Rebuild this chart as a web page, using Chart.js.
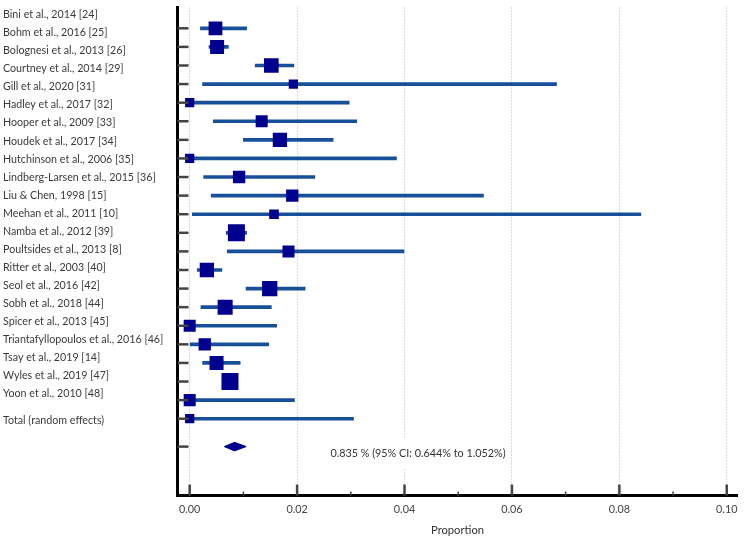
<!DOCTYPE html>
<html>
<head>
<meta charset="utf-8">
<script src="https://cdn.jsdelivr.net/npm/chart.js@4.4.1/dist/chart.umd.min.js"></script>
<style>
  html, body { margin: 0; padding: 0; background: #fff; }
</style>
</head>
<body>
<canvas id="forest" width="750" height="541"></canvas>
<script>
const studies = [
  "Bini et al., 2014 [24]",
  "Bohm et al., 2016 [25]",
  "Bolognesi et al., 2013 [26]",
  "Courtney et al., 2014 [29]",
  "Gill et al., 2020 [31]",
  "Hadley et al., 2017 [32]",
  "Hooper et al., 2009 [33]",
  "Houdek et al., 2017 [34]",
  "Hutchinson et al., 2006 [35]",
  "Lindberg-Larsen et al., 2015 [36]",
  "Liu & Chen, 1998 [15]",
  "Meehan et al., 2011 [10]",
  "Namba et al., 2012 [39]",
  "Poultsides et al., 2013 [8]",
  "Ritter et al., 2003 [40]",
  "Seol et al., 2016 [42]",
  "Sobh et al., 2018 [44]",
  "Spicer et al., 2013 [45]",
  "Triantafyllopoulos et al., 2016 [46]",
  "Tsay et al., 2019 [14]",
  "Wyles et al., 2019 [47]",
  "Yoon et al., 2010 [48]",
];
const proportions = [0.0048, 0.0051, 0.0152, 0.0193, 0.0, 0.0134, 0.0168, 0.0, 0.0092, 0.0191, 0.0157,
  0.0087, 0.0184, 0.0032, 0.0149, 0.0066, 0.0, 0.0028, 0.0050, 0.0075, 0.0, 0.0];
const ciLower = [0.0020, 0.0036, 0.0122, 0.0024, 0.0, 0.0044, 0.0100, 0.0, 0.0026, 0.0040, 0.0005,
  0.0068, 0.0070, 0.0014, 0.0105, 0.0021, 0.0, 0.0001, 0.0024, 0.0066, 0.0, 0.0];
const ciUpper = [0.0106, 0.0072, 0.0194, 0.0683, 0.0297, 0.0311, 0.0267, 0.0385, 0.0233, 0.0547, 0.0840,
  0.0106, 0.0399, 0.0060, 0.0215, 0.0152, 0.0162, 0.0147, 0.0094, 0.0086, 0.0195, 0.0305];
// peso relativo (%) de cada estudo -> tamanho do quadrado
const weights = [5.1, 5.3, 5.8, 2.3, 2.3, 3.9, 5.5, 2.3, 4.1, 4.1, 2.5, 7.8, 3.9, 5.5, 6.3, 6.1, 3.9,
  4.1, 5.3, 7.8, 3.9, 2.3];
const totalLabel = "Total (random effects)";
const totalValue = 0.00835;
const totalLower = 0.00644;
const totalUpper = 0.01052;
const xTicks = [0, 0.01, 0.02, 0.03, 0.04, 0.05, 0.06, 0.07, 0.08, 0.09, 0.10];

const rows = studies.map((_, i) => i + 1);
const totalRow = studies.length + 1.5;
const labelRows = studies.map((_, i) => i).concat([studies.length + 0.5]);
const labelTexts = studies.concat([totalLabel]);

const isMajor = (v) => Math.round(v * 100) % 2 === 0;
const squareRadius = (w) => (6.09 * Math.sqrt(w)) / 1.414;
const navy = "#00008f";
const ciColor = "#174f98";
const fontFamily = 'Lato, "Open Sans", sans-serif';

// sem folga extra para rótulos nas bordas
const noPadding = (scale) => {
  scale.paddingTop = 0;
  scale.paddingBottom = 0;
  scale.paddingLeft = 0;
  scale.paddingRight = 0;
};

// marcas internas nos eixos (apontando para dentro do gráfico)
const innerTicks = {
  id: "innerTicks",
  afterDraw(chart) {
    const { ctx, chartArea: { left, bottom }, scales: { x, y } } = chart;
    ctx.save();
    ctx.strokeStyle = "#444";
    y.ticks.forEach((t) => {
      const py = y.getPixelForValue(t.value);
      ctx.lineWidth = 2.5;
      ctx.beginPath();
      ctx.moveTo(left, py);
      ctx.lineTo(left + 11, py);
      ctx.stroke();
    });
    x.ticks.forEach((t) => {
      const px = x.getPixelForValue(t.value);
      const major = isMajor(t.value);
      ctx.lineWidth = major ? 2.5 : 1.5;
      ctx.beginPath();
      ctx.moveTo(px, bottom);
      ctx.lineTo(px, bottom - (major ? 11 : 4));
      ctx.stroke();
    });
    ctx.restore();
  },
};

// texto do efeito combinado
const totalText = {
  id: "totalText",
  afterDatasetsDraw(chart) {
    const { ctx, scales: { x, y } } = chart;
    const pct = (v) => (v * 100).toFixed(3);
    const text = `${pct(totalValue)} % (95% CI: ${pct(totalLower)}% to ${pct(totalUpper)}%)`;
    ctx.save();
    ctx.font = `10.8px ${fontFamily}`;
    const tx = x.getPixelForValue(0.0262);
    const ty = y.getPixelForValue(totalRow + 0.36);
    const w = ctx.measureText(text).width;
    ctx.fillStyle = "#fff";
    ctx.fillRect(tx - 4, ty - 15, w + 8, 30);
    ctx.fillStyle = "#333";
    ctx.textBaseline = "middle";
    ctx.textAlign = "left";
    ctx.fillText(text, tx, ty);
    ctx.restore();
  },
};

new Chart(document.getElementById("forest").getContext("2d"), {
  type: "scatter",
  plugins: [innerTicks, totalText],
  data: {
    datasets: [
      {
        type: "bar",
        indexAxis: "y",
        order: 3,
        data: rows.map((r, i) => ({ x: [ciLower[i], ciUpper[i]], y: r })),
        backgroundColor: ciColor,
        barThickness: 3,
        grouped: false,
        xAxisID: "x",
        yAxisID: "y",
      },
      {
        type: "scatter",
        order: 1,
        data: rows.map((r, i) => ({ x: proportions[i], y: r })),
        pointStyle: "rect",
        pointRadius: weights.map(squareRadius),
        backgroundColor: navy,
        borderColor: navy,
        borderWidth: 0,
        xAxisID: "x",
        yAxisID: "y",
      },
      {
        type: "line",
        order: 2,
        data: [
          { x: totalLower, y: totalRow },
          { x: totalValue, y: totalRow - 0.23 },
          { x: totalUpper, y: totalRow },
          { x: totalValue, y: totalRow + 0.23 },
          { x: totalLower, y: totalRow },
        ],
        fill: "shape",
        backgroundColor: navy,
        borderColor: navy,
        borderWidth: 1,
        pointRadius: 0,
        tension: 0,
        xAxisID: "x",
        yAxisID: "y",
      },
    ],
  },
  options: {
    responsive: false,
    animation: false,
    layout: { autoPadding: false, padding: { left: 3, top: 7.5, right: 12.5, bottom: 0 } },
    plugins: {
      legend: { display: false },
      tooltip: { enabled: false },
    },
    scales: {
      x: {
        type: "linear",
        offset: false,
        min: -0.00227,
        max: 0.102,
        afterBuildTicks: (scale) => {
          scale.ticks = xTicks.map((v) => ({ value: v }));
        },
        afterFit: (scale) => {
          scale.height = 45.5;
          noPadding(scale);
        },
        grid: {
          offset: false,
          color: (ctx) => (ctx.tick && isMajor(ctx.tick.value) ? "#b8b8b8" : "rgba(0,0,0,0)"),
          lineWidth: 1,
          drawTicks: false,
        },
        border: { display: true, color: "#000", width: 3, dash: [1, 2] },
        ticks: {
          autoSkip: false,
          maxRotation: 0,
          padding: 8,
          color: "#444",
          font: { family: fontFamily, size: 10.8 },
          callback: (v) => (isMajor(v) ? Number(v).toFixed(2) : ""),
        },
        title: {
          display: true,
          text: "Proportion",
          color: "#333",
          font: { family: fontFamily, size: 11.2 },
          padding: { top: 2, bottom: 4 },
        },
      },
      y: {
        type: "linear",
        position: "left",
        weight: 0,
        offset: false,
        reverse: true,
        min: -0.119,
        max: 26.13,
        afterBuildTicks: (scale) => {
          scale.ticks = rows.concat([totalRow]).map((v) => ({ value: v }));
        },
        afterFit: (scale) => {
          scale.width = 0;
          noPadding(scale);
        },
        grid: { display: false, drawTicks: false, offset: false },
        border: { display: true, color: "#000", width: 3 },
        ticks: { display: false },
      },
      yLabels: {
        type: "linear",
        position: "left",
        weight: 1,
        offset: false,
        reverse: true,
        min: -0.416,
        max: 26.68,
        afterBuildTicks: (scale) => {
          scale.ticks = labelRows.map((v) => ({ value: v }));
        },
        afterFit: (scale) => {
          scale.width = 174.5;
          noPadding(scale);
        },
        grid: { display: false, drawTicks: false },
        border: { display: false },
        ticks: {
          autoSkip: false,
          crossAlign: "far",
          padding: 0,
          color: "#3a3a3a",
          font: { family: fontFamily, size: 10.7 },
          callback: (v, i) => labelTexts[i],
        },
      },
    },
  },
});
</script>
</body>
</html>
